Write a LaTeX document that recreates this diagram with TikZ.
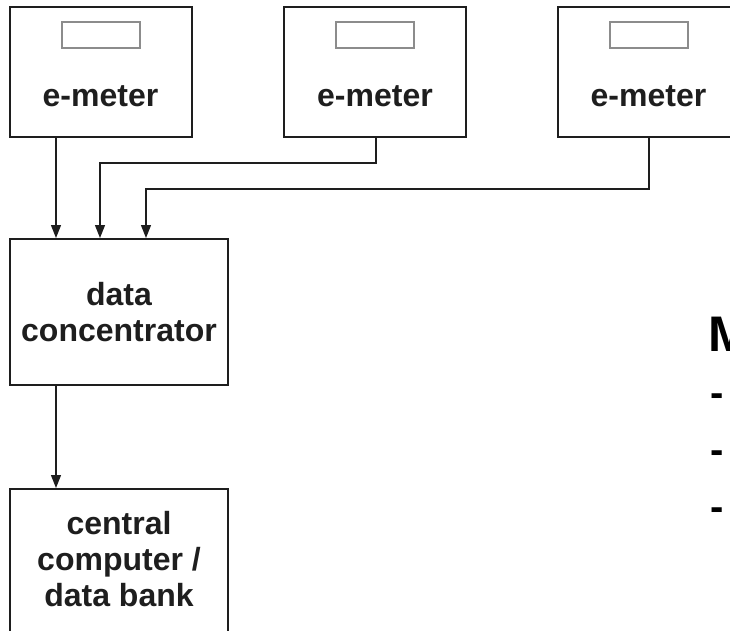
\documentclass[tikz,border=0pt]{standalone}
\usepackage{fontspec}
\setmainfont{Liberation Sans}
\usetikzlibrary{arrows.meta}
\definecolor{ink}{HTML}{1E1E1E}
\definecolor{disp}{HTML}{8C8C8C}
\begin{document}
\begin{tikzpicture}[x=1pt,y=-1pt,
  box/.style={draw=ink,line width=2pt,rectangle,inner sep=0pt,fill=white},
  display/.style={draw=disp,line width=1.1pt,rectangle,inner sep=0pt,minimum width=78pt,minimum height=26pt},
  lbl/.style={font=\fontsize{32}{36}\selectfont\bfseries,text=ink,inner sep=0pt,anchor=base},
  big/.style={font=\fontsize{50}{56}\selectfont\bfseries,text=black,inner sep=0pt,anchor=base west},
  dashlbl/.style={font=\fontsize{40}{44}\selectfont\bfseries,text=black,inner sep=0pt,anchor=base west},
  arr/.style={draw=ink,line width=1.4pt,-{Triangle[length=13pt,width=10pt]}}]
\useasboundingbox (0,0) rectangle (730,631);
\clip (0,0) rectangle (730,631);
\fill[white] (0,0) rectangle (730,631);
% meters
\node[box,minimum width=182pt,minimum height=130pt] (m1) at (101,72) {};
\node[box,minimum width=182pt,minimum height=130pt] (m2) at (375,72) {};
\node[box,minimum width=182pt,minimum height=130pt] (m3) at (649,72) {};
\node[display] (d1) at (101,35) {};
\node[display] (d2) at (375,35) {};
\node[display] (d3) at (649,35) {};
\node[lbl] (t1) at (100.5,107) {e-meter};
\node[lbl] (t2) at (375,107) {e-meter};
\node[lbl] (t3) at (648.5,107) {e-meter};
% concentrator
\node[box,minimum width=218pt,minimum height=146pt] (conc) at (119,312) {};
\node[lbl] (c1) at (119,305) {data};
\node[lbl] (c2) at (119,341) {concentrator};
% central computer
\node[box,minimum width=218pt,minimum height=171pt] (cc) at (119,574.5) {};
\node[lbl] (k1) at (119,534) {central};
\node[lbl] (k2) at (119,570) {computer /};
\node[lbl] (k3) at (119,606) {data bank};
% inputs on concentrator
\coordinate (in1) at ([xshift=-63pt]conc.north);
\coordinate (in2) at ([xshift=-19pt]conc.north);
\coordinate (in3) at ([xshift=27pt]conc.north);
\coordinate (o1) at ([xshift=-45pt]m1.south);
\coordinate (o2) at ([xshift=1pt]m2.south);
\coordinate (o3) at (m3.south);
\draw[arr] (o1) -- (in1);
\draw[arr] (o2) -- ++(0,25) -| (in2);
\draw[arr] (o3) -- ++(0,51) -| (in3);
\coordinate (cout) at ([xshift=-63pt]conc.south);
\coordinate (ccin) at ([xshift=-63pt]cc.north);
\draw[arr] (cout) -- (ccin);
% right-hand text
\node[big] (mtext) at (708.5,351) {M};
\node[dashlbl] (b1) at (710,406) {-};
\node[dashlbl] (b2) at (710,463) {-};
\node[dashlbl] (b3) at (710,520) {-};
\end{tikzpicture}
\end{document}
